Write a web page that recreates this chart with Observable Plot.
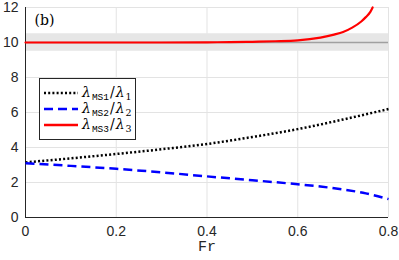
<!DOCTYPE html>
<html>
<head>
<meta charset="utf-8">
<script src="https://cdn.jsdelivr.net/npm/d3@7"></script>
<script src="https://cdn.jsdelivr.net/npm/@observablehq/plot@0.6"></script>
<style>
  body { margin: 0; background: #fff; }
  #wrap { position: relative; width: 399px; height: 260px; }
  #legend { position: absolute; left: 39px; top: 78px; width: 97px; height: 62px;
    border: 1px solid #262626; background: #fff; box-sizing: border-box; }
  .row { position: absolute; left: 3px; height: 16px; display: flex; align-items: center; }
  .lab { font-family: "DejaVu Serif", "Liberation Serif", serif; font-size: 14px; color: #000; margin-left: 3px; white-space: nowrap; }
  .lab i { font-style: italic; }
  .lab sub { font-size: 9.5px; vertical-align: -3px; margin-left: 1px; }
  .lab sub.tt { font-family: "Liberation Mono", "DejaVu Sans Mono", monospace; font-size: 9.5px; }
  .lab .sl { margin: 0 1px; }
</style>
</head>
<body>
<div id="wrap"></div>
<script>
// Data
const frBlack = [0, 0.1, 0.2, 0.3, 0.4, 0.5, 0.6, 0.7, 0.8];
const ratio1 = [3.15, 3.38, 3.63, 3.9, 4.2, 4.6, 5.05, 5.6, 6.2];
const frBlue = [0, 0.1, 0.2, 0.3, 0.4, 0.5, 0.6, 0.65, 0.7, 0.75, 0.8];
const ratio2 = [3.1, 2.95, 2.78, 2.58, 2.35, 2.13, 1.9, 1.77, 1.6, 1.38, 1.05];
const frRed = [0, 0.1, 0.2, 0.3, 0.4, 0.45, 0.5, 0.55, 0.6, 0.65, 0.68, 0.7, 0.72, 0.74, 0.75, 0.76, 0.765];
const ratio3 = [10, 10, 10, 10, 10.01, 10.02, 10.04, 10.07, 10.12, 10.28, 10.45, 10.6, 10.85, 11.2, 11.45, 11.75, 12];
const bandLow = 9.5, bandHigh = 10.5, refLevel = 10;
const xTicks = [0, 0.2, 0.4, 0.6, 0.8];
const yTicks = [0, 2, 4, 6, 8, 10, 12];
const xDomain = [0, 0.8], yDomain = [0, 12];
const panelLabel = "(b)";
const xLabel = "Fr";

const black = frBlack.map((f, i) => ({fr: f, v: ratio1[i]}));
const blue = frBlue.map((f, i) => ({fr: f, v: ratio2[i]}));
const red = frRed.map((f, i) => ({fr: f, v: ratio3[i]}));

const axisColor = "#262626";
const gridColor = "#e3e3e3";
const fmt = d => String(d);

const chart = Plot.plot({
  width: 399, height: 260,
  marginLeft: 25, marginRight: 11, marginTop: 7, marginBottom: 43,
  style: {fontFamily: "'Liberation Sans', Arial, sans-serif", fontSize: "14px", color: axisColor, background: "#fff", overflow: "visible"},
  x: {domain: xDomain, ticks: xTicks, tickFormat: fmt, label: null},
  y: {domain: yDomain, ticks: yTicks, tickFormat: fmt, label: null},
  marks: [
    Plot.gridX(xTicks, {stroke: gridColor, strokeOpacity: 1}),
    Plot.gridY(yTicks, {stroke: gridColor, strokeOpacity: 1}),
    Plot.rect([{}], {x1: xDomain[0], x2: xDomain[1], y1: bandLow, y2: bandHigh, fill: "#e6e6e6"}),
    Plot.ruleY([refLevel], {stroke: "#a0a0a0", strokeWidth: 1.5}),
    Plot.ruleY([yDomain[1]], {stroke: gridColor}),
    Plot.ruleX([xDomain[1]], {stroke: gridColor}),
    Plot.ruleX([xDomain[0]], {stroke: axisColor, strokeWidth: 1}),
    Plot.ruleY([yDomain[0]], {stroke: axisColor, strokeWidth: 1}),
    Plot.axisX(xTicks, {tickSize: 0, tickPadding: 9, fontSize: 14, fill: axisColor, tickFormat: fmt}),
    Plot.axisY(yTicks, {tickSize: 0, tickPadding: 7, fontSize: 14, fill: axisColor, tickFormat: fmt}),
    Plot.line(black, {x: "fr", y: "v", stroke: "#000", strokeWidth: 2.5, strokeDasharray: "2,2.2", strokeLinecap: "butt", curve: "monotone-x"}),
    Plot.line(blue, {x: "fr", y: "v", stroke: "#0000ff", strokeWidth: 2.5, strokeDasharray: "9,5", strokeLinecap: "butt", curve: "monotone-x"}),
    Plot.line(red, {x: "fr", y: "v", stroke: "#ff0000", strokeWidth: 2.2, curve: "monotone-x"}),
    Plot.text([panelLabel], {frameAnchor: "top-left", dx: 9, dy: 8, textAnchor: "start",
      fontFamily: "'DejaVu Serif', 'Liberation Serif', serif", fontSize: 14, fill: "#000"}),
    Plot.text([xLabel], {frameAnchor: "bottom", dy: 29, lineAnchor: "middle", fontFamily: "'Liberation Mono', 'DejaVu Sans Mono', monospace", fontSize: 15, fill: axisColor})
  ]
});
document.getElementById("wrap").appendChild(chart);

// Legend
const legendItems = [
  {color: "#000", dash: "2,2.2", ms: "MS1", n: "1"},
  {color: "#0000ff", dash: "9,5", ms: "MS2", n: "2"},
  {color: "#ff0000", dash: null, ms: "MS3", n: "3"}
];
const lg = document.createElement("div");
lg.id = "legend";
legendItems.forEach((it, i) => {
  const row = document.createElement("div");
  row.className = "row";
  row.style.top = (6 + i * 16) + "px";
  row.innerHTML = `<svg width="36" height="8"><line x1="1" x2="35" y1="4" y2="4" stroke="${it.color}" stroke-width="2.5" ${it.dash ? `stroke-dasharray="${it.dash}"` : ""}/></svg>` +
    `<span class="lab"><i>λ</i><sub class="tt">${it.ms}</sub><span class="sl">/</span><i>λ</i><sub>${it.n}</sub></span>`;
  lg.appendChild(row);
});
document.getElementById("wrap").appendChild(lg);
</script>
</body>
</html>
